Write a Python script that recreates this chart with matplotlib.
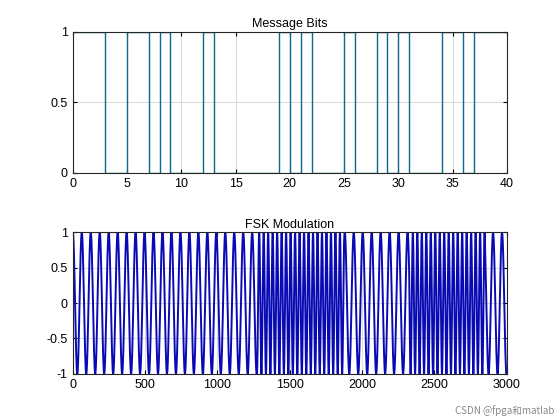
import numpy as np
import matplotlib
matplotlib.use("Agg")
import matplotlib.pyplot as plt

# bit change points (edges of each run)
edges = [0, 3, 5, 7, 8, 9, 12, 13, 19, 20, 21, 22, 25, 26, 28, 29, 30, 31, 34, 36, 37, 40]
levels = [1, 0, 1, 0, 1, 0, 1, 0, 1, 0, 1, 0, 1, 0, 1, 0, 1, 0, 1, 0, 1]

# FSK panel: 40 symbols x 75 samples, high-tone symbols
n_sym = 40
sps = 75
high_syms = [17, 18, 19, 20, 21, 22, 23, 24, 31, 32, 33, 34, 35, 36, 37]
f_low = 1 / 62.0   # cycles per sample
f_high = 1 / 31.0

plt.rcParams["font.family"] = ["Liberation Sans", "DejaVu Sans"]
fig, (ax1, ax2) = plt.subplots(2, 1, figsize=(5.6, 4.2), dpi=100)
fig.subplots_adjust(left=0.13, right=0.905, top=0.925, bottom=0.11, hspace=0.42)

def style(ax):
    ax.grid(True, color="#dcdcdc", linewidth=0.8)
    ax.set_axisbelow(True)
    ax.tick_params(direction="in", labelsize=9, top=True, right=True,
                   labeltop=False, labelright=False, length=3)
    for s in ax.spines.values():
        s.set_linewidth(0.8)
        s.set_color("#262626")

# top: stairs
ax1.stairs(levels, edges, color="#0b6a8c", linewidth=1.0, baseline=None)
ax1.set_xlim(0, 40)
ax1.set_ylim(0, 1)
ax1.set_xticks(range(0, 41, 5))
ax1.set_yticks([0, 0.5, 1])
ax1.set_yticklabels(["0", "0.5", "1"])
ax1.set_title("Message Bits", fontsize=9, pad=3)
style(ax1)

# bottom: FSK waveform built from the symbol list
freq = np.full(n_sym * sps, f_low)
for k in high_syms:
    freq[k * sps:(k + 1) * sps] = f_high
phase = 2 * np.pi * np.cumsum(freq)
sig = np.cos(phase)
ax2.plot(np.arange(1, n_sym * sps + 1), sig, color="#0a0ab4", linewidth=1.4)
ax2.set_xlim(0, 3000)
ax2.set_ylim(-1, 1)
ax2.set_xticks(range(0, 3001, 500))
ax2.set_yticks([-1, -0.5, 0, 0.5, 1])
ax2.set_yticklabels(["-1", "-0.5", "0", "0.5", "1"])
ax2.set_title("FSK Modulation", fontsize=9, pad=3)
style(ax2)

fig.text(0.99, 0.01, "CSDN @fpga和matlab", ha="right", va="bottom", fontsize=7,
         color="#888888", family=["Noto Sans CJK SC", "DejaVu Sans"])

fig.savefig("out.png", dpi=100)
